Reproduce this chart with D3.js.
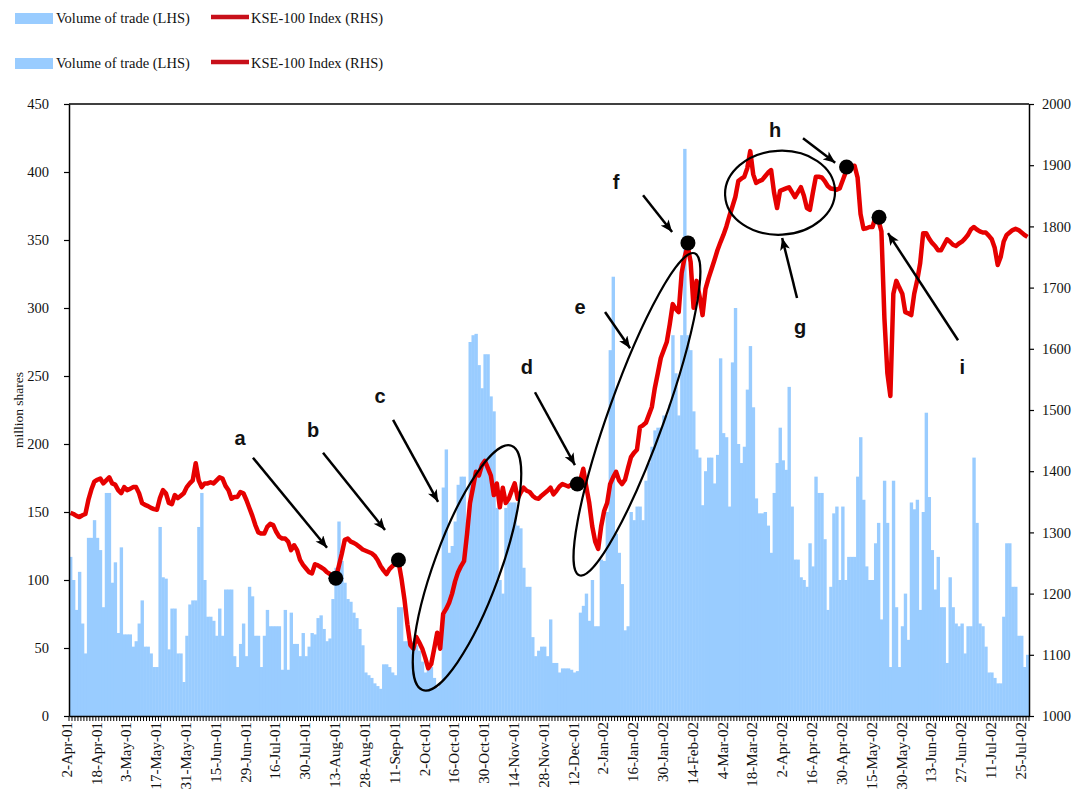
<!DOCTYPE html>
<html><head><meta charset="utf-8">
<script src="https://cdn.jsdelivr.net/npm/d3@7"></script>
<style>body{margin:0;background:#fff} svg{display:block}</style>
</head><body>
<svg id="c" width="1078" height="791"></svg>
<script>
// ---------------- data ----------------
const tickLabels = ["2-Apr-01","18-Apr-01","3-May-01","17-May-01","31-May-01","15-Jun-01","29-Jun-01","16-Jul-01","30-Jul-01","13-Aug-01","28-Aug-01","11-Sep-01","2-Oct-01","16-Oct-01","30-Oct-01","14-Nov-01","28-Nov-01","12-Dec-01","2-Jan-02","16-Jan-02","30-Jan-02","14-Feb-02","4-Mar-02","18-Mar-02","2-Apr-02","16-Apr-02","30-Apr-02","15-May-02","30-May-02","13-Jun-02","27-Jun-02","11-Jul-02","25-Jul-02"];
const tickEvery = 10;

// Volume of trade, million shares (LHS), one value per trading day
const volume = [
117,100,78,106,68,46,131,131,144,131,
122,80,164,164,98,113,61,124,60,60,
60,51,55,68,85,51,51,46,36,36,
139,102,101,49,79,79,46,46,25,59,
82,85,85,139,164,100,73,73,70,59,
79,59,93,93,93,44,36,53,68,44,
95,88,59,59,36,59,78,66,66,66,
66,34,78,34,76,53,53,44,61,44,
51,61,60,72,74,64,55,57,86,109,
143,114,98,86,84,76,72,64,52,32,
30,28,24,22,20,38,38,36,32,30,
80,80,55,55,52,55,52,48,40,32,
38,36,28,21,24,168,196,120,125,143,
170,176,176,143,275,280,281,258,241,266,
266,235,224,153,100,90,153,157,157,157,
140,138,109,95,95,58,44,48,51,51,
44,71,39,39,32,35,35,35,34,32,
33,76,81,90,70,100,66,66,115,114,
150,269,323,134,120,97,63,66,150,144,
154,154,144,173,186,198,210,212,212,221,
221,229,280,252,221,280,417,280,269,224,
196,190,155,180,190,190,171,192,263,208,
205,154,260,300,200,186,198,240,272,227,
160,149,149,150,140,120,164,186,212,188,
181,242,154,115,115,102,100,95,127,110,
176,164,164,130,78,95,149,154,100,154,
100,117,117,117,176,205,159,110,100,100,
127,142,71,173,142,36,173,80,36,66,
90,56,157,152,159,78,150,223,161,122,
93,117,80,80,39,102,80,68,66,68,
46,66,66,190,142,68,66,51,32,32,
28,24,24,73,127,127,95,95,59,59,
36,45];

// KSE-100 Index (RHS)
const kse = [
1332,1330,1327,1325,1328,1330,1353,1370,1383,1386,
1388,1380,1385,1390,1380,1378,1369,1364,1374,1369,
1371,1374,1374,1364,1348,1345,1343,1340,1338,1337,
1356,1369,1364,1348,1346,1361,1356,1360,1364,1374,
1380,1385,1413,1385,1374,1380,1380,1382,1380,1385,
1390,1388,1376,1369,1355,1358,1358,1366,1364,1353,
1340,1327,1312,1300,1298,1298,1309,1314,1312,1301,
1293,1290,1290,1285,1271,1279,1271,1255,1247,1241,
1235,1233,1248,1246,1243,1240,1235,1232,1228,1225,
1245,1265,1288,1290,1285,1283,1280,1276,1272,1270,
1268,1266,1262,1255,1245,1238,1232,1240,1245,1250,
1253,1225,1191,1150,1116,1110,1129,1120,1110,1095,
1078,1085,1110,1136,1110,1167,1175,1185,1200,1220,
1235,1245,1253,1297,1348,1373,1399,1393,1410,1417,
1405,1393,1361,1380,1341,1373,1348,1355,1368,1380,
1355,1365,1373,1368,1366,1360,1356,1355,1360,1364,
1368,1373,1362,1368,1375,1379,1377,1375,1378,1380,
1379,1385,1404,1375,1348,1310,1285,1273,1310,1335,
1348,1379,1390,1399,1385,1379,1386,1405,1423,1430,
1435,1472,1475,1479,1492,1505,1536,1560,1585,1598,
1611,1640,1673,1665,1660,1724,1750,1768,1742,1667,
1711,1686,1655,1698,1715,1730,1745,1761,1774,1786,
1800,1817,1832,1848,1874,1878,1881,1895,1923,1885,
1871,1874,1876,1882,1888,1892,1855,1830,1858,1860,
1862,1864,1856,1848,1856,1864,1850,1830,1827,1855,
1881,1881,1880,1874,1866,1862,1861,1860,1862,1875,
1888,1897,1898,1899,1880,1820,1796,1797,1799,1799,
1815,1810,1792,1650,1560,1523,1690,1711,1700,1690,
1660,1658,1655,1690,1712,1740,1789,1789,1780,1773,
1768,1761,1761,1770,1779,1775,1770,1768,1772,1775,
1780,1786,1795,1799,1795,1792,1790,1790,1785,1779,
1765,1737,1750,1775,1786,1790,1794,1796,1794,1790,
1786,1783];

// annotations, in (trading-day position, index value)
const dots = [
  {pos:89, value:1225},{pos:110, value:1255},{pos:170, value:1379},
  {pos:207.1, value:1773},{pos:260.3, value:1897},{pos:271.2, value:1815}];
const letters = [
  {t:"a", pos:56.9, value:1454},{t:"b", pos:81.35, value:1467},{t:"c", pos:103.8, value:1523},
  {t:"d", pos:153.1, value:1570},{t:"e", pos:170.9, value:1668},{t:"f", pos:183, value:1873},
  {t:"g", pos:244.7, value:1636},{t:"h", pos:236.3, value:1958},{t:"i", pos:299.1, value:1570}];
const arrows = [
  {p0:61.2, v0:1422, p1:86.05, v1:1275},{p0:84.7, v0:1430, p1:105.5, v1:1304},
  {p0:108.2, v0:1484, p1:123.3, v1:1350},{p0:155.8, v0:1529, p1:169.2, v1:1410},
  {p0:179.3, v0:1660, p1:187.7, v1:1601},{p0:192.05, v0:1851, p1:201.8, v1:1791},
  {p0:243.7, v0:1683, p1:238.7, v1:1781},{p0:245.7, v0:1944, p1:256.5, v1:1904},
  {p0:297.7, v0:1614, p1:274.2, v1:1789}];
const ellipses = [
  {pos:133.0, value:1242, rx:130, ry:33, rot:-70},
  {pos:190.0, value:1493, rx:171, ry:28, rot:-70.3},
  {pos:238.0, value:1855, rx:55, ry:42, rot:-3}];

const legendItems = ["Volume of trade (LHS)", "KSE-100 Index (RHS)"];

// ---------------- drawing ----------------
const W = 1078, H = 791, m = {l:69, r:49, t:104, b:75};
const BAR = "#99ccff", RED = "#e60000", SERIF = "'Liberation Serif','Times New Roman',serif";
const svg = d3.select("#c");
const N = Math.min(volume.length, kse.length);
const x = d3.scaleBand().domain(d3.range(N)).range([m.l, W - m.r]).padding(0);
const bw = x.bandwidth();
const px = p => x(0) + (p + 0.5) * bw;
const yL = d3.scaleLinear().domain([0, 450]).range([H - m.b, m.t]);
const yR = d3.scaleLinear().domain([1000, 2000]).range([H - m.b, m.t]);

// bars
svg.append("g").selectAll("rect").data(volume.slice(0, N)).join("rect")
  .attr("x", (d, i) => x(i)).attr("width", bw + 0.4)
  .attr("y", d => yL(d)).attr("height", d => yL(0) - yL(d))
  .attr("fill", BAR);

// index line
svg.append("path").datum(kse.slice(0, N))
  .attr("d", d3.line().x((d, i) => x(i) + bw / 2).y(d => yR(d)))
  .attr("fill", "none").attr("stroke", RED).attr("stroke-width", 4.5)
  .attr("stroke-linejoin", "round");

// frame
const fr = svg.append("g").attr("stroke", "#000").attr("stroke-width", 1.5);
fr.append("line").attr("x1", m.l).attr("x2", W - m.r).attr("y1", m.t).attr("y2", m.t);

// left axis
const gL = svg.append("g").attr("transform", `translate(${m.l},0)`)
  .call(d3.axisLeft(yL).tickValues(d3.range(0, 451, 50)).tickFormat(d3.format("d"))
    .tickSize(5).tickSizeOuter(0).tickPadding(15));
// right axis
const gR = svg.append("g").attr("transform", `translate(${W - m.r},0)`)
  .call(d3.axisRight(yR).tickValues(d3.range(1000, 2001, 100)).tickFormat(d3.format("d"))
    .tickSize(5).tickSizeOuter(0).tickPadding(8));
// bottom axis (category ticks)
const gB = svg.append("g").attr("transform", `translate(0,${H - m.b})`)
  .call(d3.axisBottom(x).tickValues(d3.range(0, N, tickEvery)).tickFormat((d, k) => tickLabels[k] || "").tickSize(0).tickSizeOuter(0));
[gL, gR, gB].forEach(g => {
  g.attr("font-family", null);
  g.select(".domain").attr("stroke", "#000").attr("stroke-width", 1.5);
  g.selectAll(".tick line").attr("stroke", "#000").attr("stroke-width", 1.2);
  g.selectAll("text").style("font-family", SERIF).attr("font-size", 14.5).attr("fill", "#111");
});
gB.selectAll(".tick text")
  .attr("transform", "rotate(-90)").attr("text-anchor", "end")
  .attr("x", -6).attr("y", -4).attr("dy", "0.35em").attr("font-size", 15);
// small tick at every category boundary
svg.append("g").selectAll("line").data(d3.range(N + 1)).join("line")
  .attr("x1", i => x(0) + i * bw).attr("x2", i => x(0) + i * bw)
  .attr("y1", H - m.b).attr("y2", H - m.b + 5)
  .attr("stroke", "#000").attr("stroke-width", 1);

// left axis title
svg.append("text").attr("transform", `translate(18,${(yL(250) + yL(200)) / 2}) rotate(-90)`)
  .attr("text-anchor", "middle").attr("dominant-baseline", "central")
  .style("font-family", SERIF).attr("font-size", 13.5).attr("fill", "#111").text("million shares");

// ellipses
svg.append("g").selectAll("ellipse").data(ellipses).join("ellipse")
  .attr("transform", d => `translate(${px(d.pos)},${yR(d.value)}) rotate(${d.rot})`)
  .attr("rx", d => d.rx).attr("ry", d => d.ry)
  .attr("fill", "none").attr("stroke", "#000").attr("stroke-width", 2.2);

// arrows
svg.append("defs").append("marker").attr("id", "ah")
  .attr("viewBox", "0 0 12 10").attr("refX", 12).attr("refY", 5)
  .attr("markerWidth", 13).attr("markerHeight", 10).attr("markerUnits", "userSpaceOnUse")
  .attr("orient", "auto")
  .append("path").attr("d", "M0,0 L12,5 L0,10 L3,5 Z").attr("fill", "#000");
svg.append("g").selectAll("line").data(arrows).join("line")
  .attr("x1", d => px(d.p0)).attr("y1", d => yR(d.v0))
  .attr("x2", d => px(d.p1)).attr("y2", d => yR(d.v1))
  .attr("stroke", "#000").attr("stroke-width", 2.5).attr("marker-end", "url(#ah)");

// dots
svg.append("g").selectAll("circle").data(dots).join("circle")
  .attr("cx", d => px(d.pos)).attr("cy", d => yR(d.value)).attr("r", 7.5).attr("fill", "#000");

// letters
svg.append("g").selectAll("text").data(letters).join("text")
  .attr("x", d => px(d.pos)).attr("y", d => yR(d.value))
  .attr("text-anchor", "middle").attr("dominant-baseline", "central")
  .style("font-family", "'Liberation Sans',Arial,sans-serif").attr("font-weight", "bold")
  .attr("font-size", 20).attr("fill", "#111").text(d => d.t);

// legend (two identical rows)
[18, 63].forEach(cy => {
  const g = svg.append("g");
  g.append("rect").attr("x", 15).attr("y", cy - 5).attr("width", 38).attr("height", 11).attr("fill", BAR);
  g.append("text").attr("x", 56).attr("y", cy + 5).style("font-family", SERIF).attr("font-size", 14.5)
    .attr("fill", "#111").text(legendItems[0]);
  g.append("line").attr("x1", 211).attr("x2", 249).attr("y1", cy - 1).attr("y2", cy - 1)
    .attr("stroke", "#c8101a").attr("stroke-width", 4.5);
  g.append("text").attr("x", 251).attr("y", cy + 5).style("font-family", SERIF).attr("font-size", 14.5)
    .attr("fill", "#111").text(legendItems[1]);
});
</script>
</body></html>
